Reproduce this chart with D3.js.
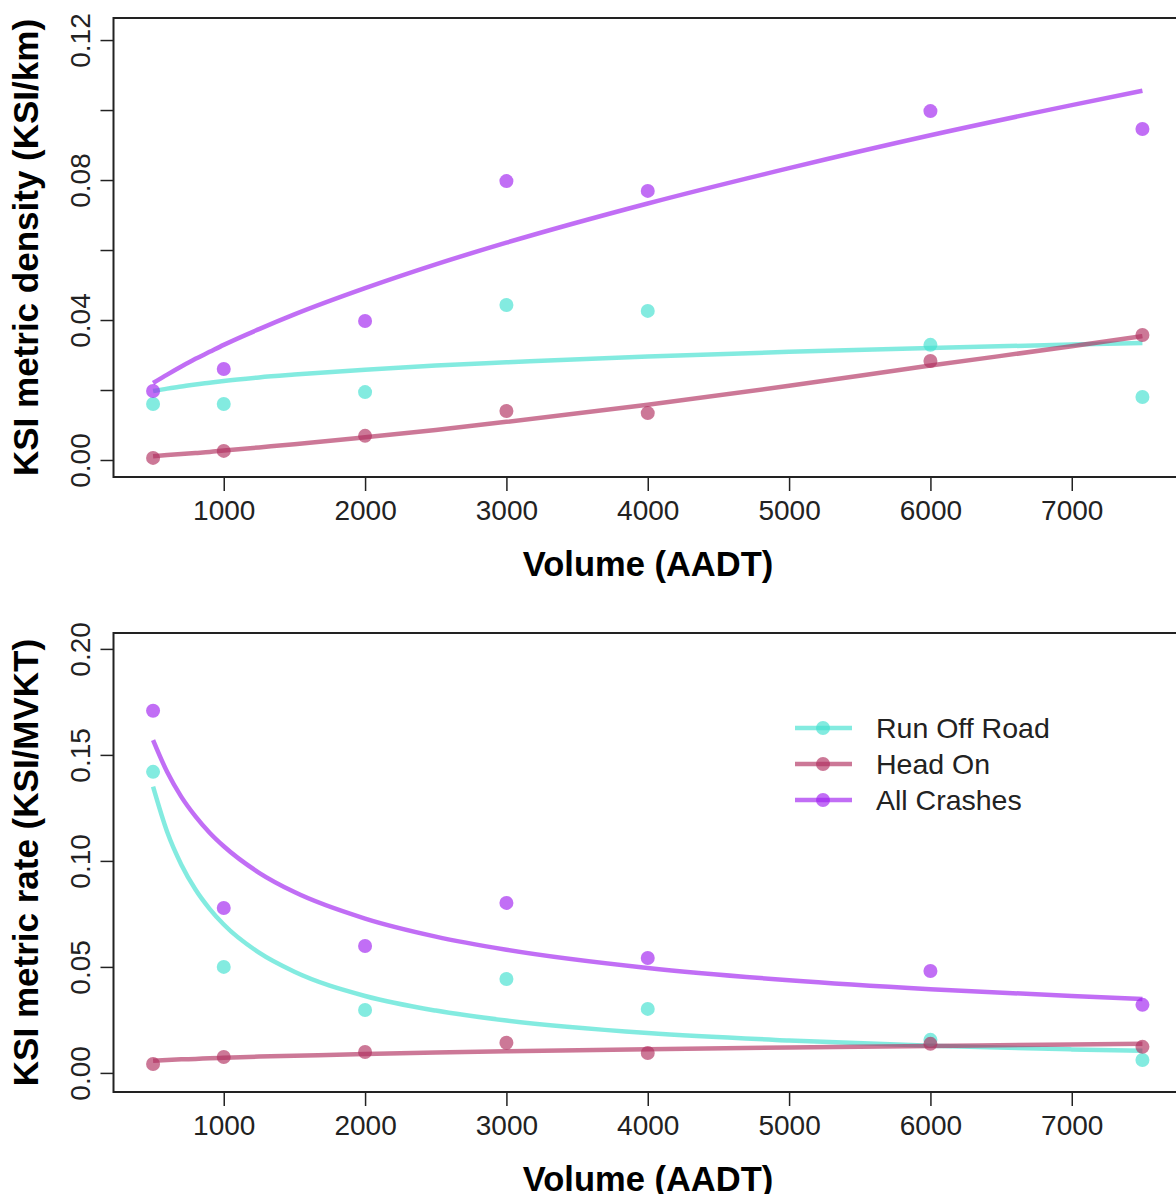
<!DOCTYPE html>
<html>
<head>
<meta charset="utf-8">
<script src="https://cdn.jsdelivr.net/npm/d3@7"></script>
<style>
  html, body { margin: 0; padding: 0; background: #fff; }
  svg { display: block; font-family: "Liberation Sans", Arial, sans-serif; }
</style>
</head>
<body>
<svg id="chart" width="1176" height="1194"></svg>
<script>
// volumes where observations were taken
var volumes = [500, 1000, 2000, 3000, 4000, 6000, 7500];
// x positions used to trace the fitted curves
var curveVolumes = [500, 600, 700, 800, 900, 1000, 1250, 1500, 2000, 2500, 3000, 4000, 5000, 6000, 7000, 7500];

var seriesNames = ["Run Off Road", "Head On", "All Crashes"];
var seriesColours = ["#40E0D0", "#B03060", "#A020F0"];

var xTicks = [1000, 2000, 3000, 4000, 5000, 6000, 7000];
var densityTicks = [0, 0.02, 0.04, 0.06, 0.08, 0.10, 0.12];
var densityTickLabels = ["0.00", "", "0.04", "", "0.08", "", "0.12"];
var rateTicks = [0, 0.05, 0.10, 0.15, 0.20];
var rateTickLabels = ["0.00", "0.05", "0.10", "0.15", "0.20"];

// top panel: KSI density points
var densityRunOff = [0.0160, 0.0160, 0.0194, 0.0443, 0.0426, 0.0329, 0.0180];
var densityHeadOn = [0.0006, 0.0026, 0.0069, 0.0140, 0.0134, 0.0283, 0.0357];
var densityAll    = [0.0197, 0.0260, 0.0397, 0.0797, 0.0769, 0.0997, 0.0946];
// top panel: fitted curves
var densityFitRunOff = [0.0197, 0.0204, 0.0210, 0.0216, 0.0221, 0.0226, 0.0236, 0.0244, 0.0258, 0.0270, 0.0279, 0.0296, 0.0309, 0.0320, 0.0330, 0.0334];
var densityFitHeadOn = [0.0011, 0.0014, 0.0017, 0.0020, 0.0023, 0.0027, 0.0036, 0.0045, 0.0065, 0.0086, 0.0109, 0.0158, 0.0212, 0.0270, 0.0325, 0.0354];
var densityFitAll    = [0.0220, 0.0244, 0.0267, 0.0289, 0.0309, 0.0329, 0.0374, 0.0416, 0.0491, 0.0559, 0.0621, 0.0733, 0.0834, 0.0928, 0.1014, 0.1055];

// bottom panel: KSI rate points
var rateRunOff = [0.1420, 0.0500, 0.0297, 0.0443, 0.0302, 0.0156, 0.0061];
var rateHeadOn = [0.0042, 0.0075, 0.0099, 0.0142, 0.0094, 0.0137, 0.0123];
var rateAll    = [0.1708, 0.0778, 0.0599, 0.0802, 0.0542, 0.0481, 0.0321];
// bottom panel: fitted curves
var rateFitRunOff = [0.1350, 0.1136, 0.0982, 0.0865, 0.0774, 0.0700, 0.0567, 0.0477, 0.0363, 0.0294, 0.0247, 0.0188, 0.0153, 0.0128, 0.0111, 0.0104];
var rateFitHeadOn = [0.0057, 0.0061, 0.0064, 0.0066, 0.0069, 0.0071, 0.0077, 0.0081, 0.0089, 0.0096, 0.0102, 0.0112, 0.0120, 0.0127, 0.0134, 0.0137];
var rateFitAll    = [0.1570, 0.1419, 0.1302, 0.1210, 0.1133, 0.1069, 0.0944, 0.0853, 0.0728, 0.0643, 0.0581, 0.0495, 0.0437, 0.0395, 0.0363, 0.0349];

var svg = d3.select("#chart");

// shared horizontal scale (R pads the data range by 4% on each side)
var x = d3.scaleLinear().domain([220, 7780]).range([113.5, 1182]);

function plot_panel(top, bottom, yDomain, yTicks, yLabels, yTitle, points, fits)
{
    var g = svg.append("g");
    var y = d3.scaleLinear().domain(yDomain).range([bottom, top]);

    // fitted curves
    var line = d3.line()
        .curve(d3.curveMonotoneX)
        .x(function(d) { return x(d[0]); })
        .y(function(d) { return y(d[1]); });
    fits.forEach(function(values, i)
    {
        g.append("path")
            .datum(curveVolumes.map(function(v, j) { return [v, values[j]]; }))
            .attr("fill", "none")
            .attr("stroke", seriesColours[i])
            .attr("stroke-opacity", 0.65)
            .attr("stroke-width", 4.5)
            .attr("d", line);
    });

    // observed points
    points.forEach(function(values, i)
    {
        g.selectAll(null)
            .data(volumes.map(function(v, j) { return [v, values[j]]; }))
            .enter()
            .append("circle")
            .attr("cx", function(d) { return x(d[0]); })
            .attr("cy", function(d) { return y(d[1]); })
            .attr("r", 7)
            .attr("fill", seriesColours[i])
            .attr("fill-opacity", 0.65);
    });

    // box
    g.append("rect")
        .attr("x", 113.5).attr("y", top)
        .attr("width", 1182 - 113.5).attr("height", bottom - top)
        .attr("fill", "none").attr("stroke", "#222").attr("stroke-width", 2);

    // x axis
    var xAxis = g.append("g")
        .attr("transform", "translate(0," + (bottom + 1) + ")")
        .call(d3.axisBottom(x).tickValues(xTicks).tickSize(13).tickPadding(9).tickFormat(d3.format("d")));
    xAxis.select(".domain").remove();
    xAxis.selectAll(".tick line").attr("stroke", "#222").attr("stroke-width", 1.5);
    xAxis.selectAll(".tick text")
        .attr("font-size", 28).attr("fill", "#222")
        .attr("font-family", "Liberation Sans, Arial, sans-serif");

    // y axis
    var yAxis = g.append("g")
        .attr("transform", "translate(113.5,0)")
        .call(d3.axisLeft(y).tickValues(yTicks).tickSize(13)
            .tickFormat(function(d, i) { return yLabels[i]; }));
    yAxis.select(".domain").remove();
    yAxis.selectAll(".tick line").attr("stroke", "#222").attr("stroke-width", 1.5);
    yAxis.selectAll(".tick text")
        .attr("font-size", 28).attr("fill", "#222")
        .attr("font-family", "Liberation Sans, Arial, sans-serif")
        .attr("x", null).attr("dy", null)
        .attr("text-anchor", "middle")
        .attr("transform", "translate(-24,0) rotate(-90)");

    // axis titles
    g.append("text")
        .attr("x", 648).attr("y", bottom + 99)
        .attr("text-anchor", "middle")
        .attr("font-size", 34.5).attr("font-weight", "bold")
        .text("Volume (AADT)");
    g.append("text")
        .attr("transform", "translate(38," + ((top + bottom) / 2) + ") rotate(-90)")
        .attr("text-anchor", "middle")
        .attr("font-size", 35).attr("font-weight", "bold")
        .text(yTitle);

    return g;
}

plot_panel(18, 477, [-0.00486, 0.1263], densityTicks, densityTickLabels,
    "KSI metric density (KSI/km)",
    [densityRunOff, densityHeadOn, densityAll],
    [densityFitRunOff, densityFitHeadOn, densityFitAll]);

var lower = plot_panel(633, 1092, [-0.009, 0.2075], rateTicks, rateTickLabels,
    "KSI metric rate (KSI/MVKT)",
    [rateRunOff, rateHeadOn, rateAll],
    [rateFitRunOff, rateFitHeadOn, rateFitAll]);

// legend in the lower panel
var legend = lower.append("g");
seriesNames.forEach(function(name, i)
{
    var ly = 728 + i * 36;
    legend.append("line")
        .attr("x1", 795).attr("x2", 852).attr("y1", ly).attr("y2", ly)
        .attr("stroke", seriesColours[i]).attr("stroke-opacity", 0.65).attr("stroke-width", 4.5);
    legend.append("circle")
        .attr("cx", 823).attr("cy", ly).attr("r", 7)
        .attr("fill", seriesColours[i]).attr("fill-opacity", 0.65);
    legend.append("text")
        .attr("x", 876).attr("y", ly + 10)
        .attr("font-size", 28.5).attr("fill", "#222")
        .text(name);
});
</script>
</body>
</html>
